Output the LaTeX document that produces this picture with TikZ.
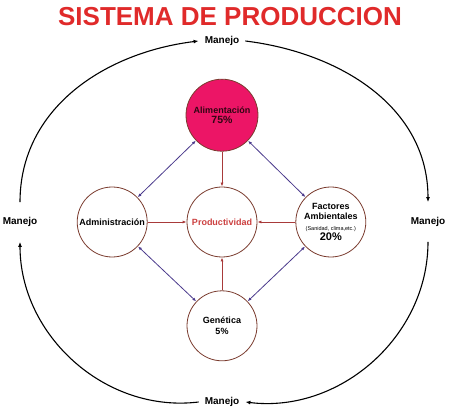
\documentclass[tikz,border=0pt]{standalone}
\usepackage{fontspec}
\setmainfont{Liberation Sans}
\usetikzlibrary{arrows.meta,positioning}
\usepackage{xcolor}
\definecolor{titleRed}{HTML}{E02A2A}
\definecolor{ringBrown}{HTML}{7A3B2E}
\definecolor{linkPurple}{HTML}{4B3A8C}
\definecolor{flowRed}{HTML}{A83A3A}
\definecolor{feedPink}{HTML}{EC1566}
\definecolor{prodRed}{HTML}{CC4040}
\definecolor{darkText}{HTML}{2E0612}
\tikzset{
    factor/.style={
        circle,
        draw=ringBrown,
        line width=0.8pt,
        fill=white,
        align=center,
        minimum size=70pt,
        inner sep=0pt,
        font=\fontsize{9}{10.5}\selectfont\bfseries
    },
    manejo/.style={
        inner xsep=6pt,
        inner ysep=15pt,
        font=\fontsize{10}{12}\selectfont\bfseries
    },
    cycle/.style={-{Latex[length=5pt,width=4pt]},line width=1.1pt,draw=black},
    link/.style={{Latex[length=4pt,width=3pt]}-{Latex[length=4pt,width=3pt]},line width=0.8pt,draw=linkPurple},
    feed/.style={-{Latex[length=4pt,width=3pt]},line width=0.8pt,draw=flowRed}
}

\begin{document}
\begin{tikzpicture}
    \useasboundingbox (0,0) rectangle (450pt,410pt);
    \node[font=\fontsize{26}{30}\selectfont\bfseries, text=titleRed] (title) at (230pt,393pt)
        {SISTEMA DE PRODUCCION};

    % circulos centrales
    \node[factor, text=prodRed] (prod) at (222pt,188pt) {Productividad};
    \node[factor, fill=feedPink, text=darkText, minimum size=72pt, above=35pt of prod] (alim)
        {Alimentación\\{\fontsize{10.5}{12}\selectfont 75\%}};
    \node[factor, left=39pt of prod] (admin) {Administración};
    \node[factor, right=38pt of prod] (amb)
        {Factores\\Ambientales\\{\fontsize{5.5}{7}\selectfont\mdseries (Sanidad, clima,etc.)}\\{\fontsize{11}{12}\selectfont 20\%}};
    \node[factor, below=33pt of prod] (gen) {Genética\\5\%};

    % manejo
    \node[manejo] (mtop) at (222pt,369pt) {Manejo};
    \node[manejo] (mbot) at (222pt,8pt) {Manejo};
    \node[manejo] (mleft) at (20pt,188pt) {Manejo};
    \node[manejo] (mright) at (428pt,188pt) {Manejo};

    \draw[cycle] (mleft.north) to[out=90,in=187] (mtop.west);
    \draw[cycle] (mtop.east) to[out=-7,in=90] (mright.north);
    \draw[cycle] (mright.south) to[out=-90,in=-7] (mbot.east);
    \draw[cycle] (mbot.west) to[out=187,in=-90] (mleft.south);

    \draw[link] (alim) -- (admin);
    \draw[link] (alim) -- (amb);
    \draw[link] (admin) -- (gen);
    \draw[link] (amb) -- (gen);

    \draw[feed] (alim) -- (prod);
    \draw[feed] (admin) -- (prod);
    \draw[feed] (amb) -- (prod);
    \draw[feed] (gen) -- (prod);
\end{tikzpicture}
\end{document}
